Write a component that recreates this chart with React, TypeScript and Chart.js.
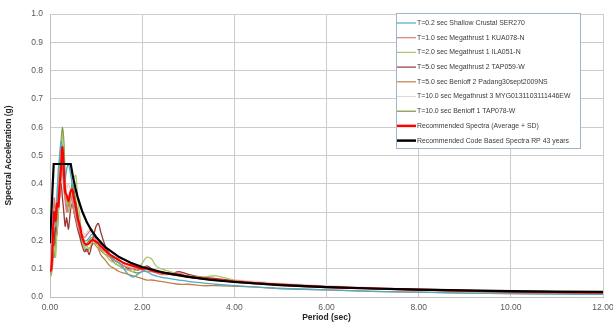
import React, { useEffect, useRef } from "react";
import { Chart, registerables } from "chart.js";

Chart.register(...registerables);

// Shared period grid (sec) for the recorded spectra and the recommended spectrum
const periods = [0, 0.03, 0.06, 0.09, 0.12, 0.15, 0.18, 0.21, 0.24, 0.27, 0.3, 0.33, 0.36, 0.4, 0.44, 0.48, 0.52, 0.56, 0.6, 0.65, 0.7, 0.75, 0.8, 0.85, 0.9, 0.95, 1.0, 1.05, 1.1, 1.2, 1.3, 1.4, 1.5, 1.6, 1.7, 1.8, 1.9, 2.0, 2.1, 2.2, 2.3, 2.4, 2.6, 2.8, 3.0, 3.3, 3.6, 4.0, 4.5, 5, 6, 7, 8, 9, 10, 11, 12];

const shallowSER270 = [0.08, 0.1, 0.2, 0.3, 0.25, 0.35, 0.45, 0.5, 0.55, 0.52, 0.48, 0.42, 0.45, 0.47, 0.44, 0.4, 0.35, 0.3, 0.27, 0.24, 0.21, 0.2, 0.2, 0.21, 0.22, 0.22, 0.21, 0.2, 0.19, 0.17, 0.15, 0.13, 0.12, 0.1, 0.08, 0.07, 0.08, 0.09, 0.09, 0.08, 0.075, 0.07, 0.065, 0.06, 0.055, 0.05, 0.045, 0.04, 0.035, 0.03, 0.025, 0.02, 0.017, 0.014, 0.012, 0.01, 0.009];
const megaKUA078 = [0.09, 0.12, 0.22, 0.35, 0.3, 0.33, 0.38, 0.35, 0.42, 0.45, 0.38, 0.34, 0.3, 0.33, 0.36, 0.34, 0.3, 0.28, 0.25, 0.23, 0.22, 0.21, 0.22, 0.23, 0.24, 0.22, 0.2, 0.19, 0.17, 0.16, 0.14, 0.13, 0.12, 0.11, 0.105, 0.1, 0.1, 0.095, 0.09, 0.09, 0.085, 0.08, 0.08, 0.085, 0.07, 0.065, 0.06, 0.055, 0.05, 0.045, 0.035, 0.03, 0.025, 0.02, 0.018, 0.016, 0.014];
const megaILA051 = [0.07, 0.09, 0.15, 0.18, 0.14, 0.22, 0.3, 0.45, 0.5, 0.58, 0.5, 0.4, 0.35, 0.3, 0.32, 0.38, 0.42, 0.43, 0.35, 0.28, 0.2, 0.17, 0.18, 0.17, 0.19, 0.2, 0.19, 0.18, 0.17, 0.15, 0.13, 0.12, 0.11, 0.1, 0.095, 0.09, 0.1, 0.12, 0.14, 0.135, 0.11, 0.1, 0.09, 0.08, 0.075, 0.07, 0.075, 0.06, 0.05, 0.045, 0.035, 0.03, 0.025, 0.02, 0.017, 0.014, 0.012];
const megaTAP059 = [0.09, 0.1, 0.15, 0.2, 0.25, 0.22, 0.3, 0.38, 0.4, 0.35, 0.3, 0.25, 0.28, 0.24, 0.3, 0.33, 0.3, 0.27, 0.24, 0.21, 0.18, 0.16, 0.17, 0.15, 0.18, 0.22, 0.25, 0.26, 0.23, 0.18, 0.15, 0.13, 0.12, 0.11, 0.1, 0.1, 0.095, 0.1, 0.11, 0.1, 0.09, 0.085, 0.08, 0.09, 0.08, 0.07, 0.065, 0.058, 0.05, 0.045, 0.037, 0.03, 0.026, 0.022, 0.019, 0.017, 0.015];
const benioffPadang = [0.07, 0.08, 0.12, 0.18, 0.22, 0.28, 0.3, 0.35, 0.42, 0.46, 0.4, 0.35, 0.32, 0.3, 0.34, 0.36, 0.33, 0.3, 0.27, 0.22, 0.19, 0.17, 0.16, 0.17, 0.18, 0.19, 0.18, 0.17, 0.15, 0.13, 0.11, 0.1, 0.09, 0.085, 0.08, 0.075, 0.07, 0.065, 0.06, 0.06, 0.058, 0.055, 0.05, 0.045, 0.045, 0.04, 0.04, 0.038, 0.035, 0.03, 0.025, 0.02, 0.017, 0.014, 0.012, 0.011, 0.01];
const megaMYG = [0.1, 0.12, 0.25, 0.3, 0.32, 0.38, 0.4, 0.42, 0.45, 0.44, 0.42, 0.4, 0.38, 0.4, 0.38, 0.35, 0.32, 0.3, 0.28, 0.26, 0.24, 0.22, 0.23, 0.24, 0.22, 0.21, 0.2, 0.19, 0.18, 0.16, 0.15, 0.14, 0.13, 0.12, 0.11, 0.105, 0.1, 0.1, 0.095, 0.09, 0.09, 0.085, 0.085, 0.08, 0.075, 0.07, 0.065, 0.06, 0.055, 0.048, 0.04, 0.033, 0.028, 0.024, 0.021, 0.019, 0.017];
const benioffTAP078 = [0.08, 0.1, 0.18, 0.14, 0.2, 0.25, 0.35, 0.48, 0.55, 0.6, 0.55, 0.42, 0.35, 0.32, 0.36, 0.4, 0.38, 0.34, 0.3, 0.25, 0.2, 0.18, 0.19, 0.2, 0.21, 0.2, 0.19, 0.18, 0.165, 0.15, 0.14, 0.12, 0.11, 0.1, 0.095, 0.09, 0.085, 0.09, 0.1, 0.095, 0.09, 0.085, 0.08, 0.075, 0.07, 0.065, 0.06, 0.055, 0.05, 0.044, 0.036, 0.03, 0.025, 0.021, 0.018, 0.016, 0.014];
const recommended = [0.09, 0.1, 0.2, 0.3, 0.27, 0.33, 0.32, 0.4, 0.46, 0.53, 0.45, 0.37, 0.36, 0.34, 0.37, 0.38, 0.35, 0.32, 0.28, 0.25, 0.21, 0.19, 0.185, 0.19, 0.2, 0.2, 0.195, 0.19, 0.18, 0.165, 0.15, 0.14, 0.13, 0.12, 0.115, 0.11, 0.105, 0.1, 0.1, 0.095, 0.09, 0.088, 0.082, 0.078, 0.072, 0.066, 0.06, 0.054, 0.048, 0.043, 0.035, 0.03, 0.026, 0.022, 0.019, 0.017, 0.015];

// Code-based spectrum
const codePeriods = [0, 0.08, 0.45, 0.5, 0.55, 0.6, 0.7, 0.8, 0.9, 1.0, 1.2, 1.5, 1.75, 2, 2.5, 3, 3.5, 4, 5, 6, 7, 8, 9, 10, 11, 12];
const codeSpectrum = [0.19, 0.47, 0.47, 0.423, 0.385, 0.353, 0.302, 0.264, 0.235, 0.212, 0.176, 0.141, 0.121, 0.106, 0.085, 0.071, 0.06, 0.053, 0.042, 0.035, 0.03, 0.026, 0.0235, 0.021, 0.019, 0.018];

const seriesLabels = [
  "T=0.2 sec Shallow Crustal SER270",
  "T=1.0 sec Megathrust 1 KUA078-N",
  "T=2.0 sec Megathrust 1 ILA051-N",
  "T=5.0 sec Megathrust 2 TAP059-W",
  "T=5.0 sec Benioff 2 Padang30sept2009NS",
  "T=10.0 sec Megathrust 3 MYG0131103111446EW",
  "T=10.0 sec Benioff 1 TAP078-W",
  "Recommended Spectra (Average + SD)",
  "Recommended Code Based Spectra RP 43 years",
];
const seriesColors = ["#4bacc6", "#e07a7a", "#a9c86a", "#953735", "#c08048", "#ead4da", "#77933c", "#ff0000", "#000000"];
const seriesWidths = [1.3, 1.3, 1.3, 1.3, 1.3, 1.3, 1.3, 2.2, 2.2];

const xTicks = [0, 2, 4, 6, 8, 10, 12];

const toPts = (xs: number[], ys: number[]) => xs.map((x, i) => ({ x, y: ys[i] }));

const legendPlugin = {
  id: "boxLegend",
  afterDraw(chart: any) {
    const ctx = chart.ctx;
    const x0 = 396, y0 = 13, w = 184, h = 135;
    ctx.save();
    ctx.fillStyle = "#ffffff";
    ctx.fillRect(x0, y0, w, h);
    ctx.strokeStyle = "#9fb4cf";
    ctx.lineWidth = 1;
    ctx.strokeRect(x0 + 0.5, y0 + 0.5, w, h);
    ctx.font = "6.9px 'Liberation Sans', sans-serif";
    ctx.textBaseline = "middle";
    ctx.textAlign = "left";
    seriesLabels.forEach((lab, i) => {
      const y = 23 + i * 14.7;
      ctx.strokeStyle = seriesColors[i];
      ctx.lineWidth = i >= 7 ? 2.5 : 1.2;
      ctx.beginPath();
      ctx.moveTo(397, y);
      ctx.lineTo(416, y);
      ctx.stroke();
      ctx.fillStyle = "#3a3a3a";
      ctx.fillText(lab, 417, y);
    });
    ctx.restore();
  },
};

export default function App() {
  const ref = useRef<HTMLCanvasElement | null>(null);
  useEffect(() => {
    if (!ref.current) return;
    const records = [shallowSER270, megaKUA078, megaILA051, megaTAP059, benioffPadang, megaMYG, benioffTAP078, recommended];
    const datasets: any[] = records.map((ys, i) => ({
      label: seriesLabels[i],
      data: toPts(periods, ys),
      borderColor: seriesColors[i],
      borderWidth: seriesWidths[i],
      pointRadius: 0,
      tension: 0.3,
      fill: false,
      order: i === 7 ? 1 : 2 + i,
    }));
    datasets.push({
      label: seriesLabels[8],
      data: toPts(codePeriods, codeSpectrum),
      borderColor: seriesColors[8],
      borderWidth: seriesWidths[8],
      pointRadius: 0,
      tension: 0,
      fill: false,
      order: 0,
    });
    const chart = new Chart(ref.current, {
      type: "line",
      data: { datasets },
      options: {
        animation: false,
        responsive: false,
        layout: { padding: { top: 14, right: 10, left: 0, bottom: 0 } },
        plugins: { legend: { display: false }, tooltip: { enabled: false } },
        scales: {
          x: {
            type: "linear",
            min: 0,
            max: 12,
            afterBuildTicks: (s: any) => {
              s.ticks = xTicks.map((v) => ({ value: v }));
            },
            afterFit: (s: any) => {
              s.height = 26;
              s.paddingLeft = 0;
              s.paddingRight = 0;
            },
            ticks: {
              color: "#595959",
              font: { size: 8.5, family: "'Liberation Sans', sans-serif" },
              padding: 6,
              callback: (v: any) => Number(v).toFixed(2),
              maxRotation: 0,
            },
            grid: { color: "#cccccc", lineWidth: 1, drawTicks: false },
            border: { color: "#bfbfbf" },
            title: {
              display: true,
              text: "Period (sec)",
              color: "#262626",
              font: { size: 8.5, weight: "bold", family: "'Liberation Sans', sans-serif" },
              padding: { top: 0, bottom: 0 },
            },
          },
          y: {
            type: "linear",
            min: 0,
            max: 1,
            afterFit: (s: any) => {
              s.width = 50;
              s.paddingTop = 0;
              s.paddingBottom = 0;
            },
            ticks: {
              stepSize: 0.1,
              color: "#595959",
              font: { size: 8.5, family: "'Liberation Sans', sans-serif" },
              padding: 7,
              callback: (v: any) => Number(v).toFixed(1),
            },
            grid: { color: "#cccccc", lineWidth: 1, drawTicks: false },
            border: { color: "#bfbfbf" },
            title: {
              display: true,
              text: "Spectral Acceleration (g)",
              color: "#262626",
              font: { size: 8.5, weight: "bold", family: "'Liberation Sans', sans-serif" },
              padding: { top: 4, bottom: 2 },
            },
          },
        },
      },
      plugins: [legendPlugin],
    });
    return () => chart.destroy();
  }, []);
  return (
    <div style={{ position: "absolute", left: 0, top: 0, width: 613, height: 323, background: "#fff" }}>
      <canvas ref={ref} width={613} height={323} style={{ display: "block" }} />
    </div>
  );
}
